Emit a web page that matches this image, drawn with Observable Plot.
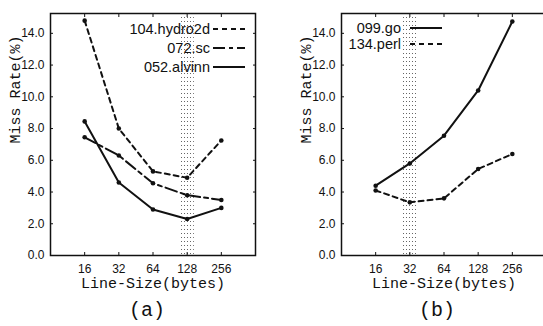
<!DOCTYPE html>
<html><head><meta charset="utf-8">
<script src="https://cdn.jsdelivr.net/npm/d3@7"></script>
<script src="https://cdn.jsdelivr.net/npm/@observablehq/plot@0.6"></script>
<style>
html,body{margin:0;padding:0;background:#fff;overflow:hidden;}
#wrap{position:relative;width:543px;height:326px;overflow:hidden;}
.panel{position:absolute;top:0;}
.cap{position:absolute;font-family:"Liberation Mono","Courier New",monospace;font-size:20px;transform:translateX(-50%);line-height:24px;color:#111;}
.leg{position:absolute;font-family:"Liberation Sans",Arial,sans-serif;font-size:14.5px;display:flex;align-items:center;height:18px;line-height:18px;color:#111;}
</style></head><body><div id="wrap"></div>
<script>
// ---- data ----
const lineSizes = [16, 32, 64, 128, 256];
const hydro2d = [14.8, 8.0, 5.3, 4.9, 7.25];
const sc = [7.45, 6.3, 4.55, 3.8, 3.5];
const alvinn = [8.45, 4.6, 2.9, 2.3, 3.0];
const go = [4.4, 5.8, 7.55, 10.4, 14.75];
const perl = [4.1, 3.35, 3.6, 5.45, 6.4];
const yTicks = [0, 2, 4, 6, 8, 10, 12, 14];
const seriesA = ["104.hydro2d", "072.sc", "052.alvinn"];
const seriesB = ["099.go", "134.perl"];
const valuesA = [hydro2d, sc, alvinn];
const valuesB = [go, perl];
const highlightA = 128;
const highlightB = 32;
const yLabel = "Miss Rate(%)";
const xLabel = "Line-Size(bytes)";

// ---- styles ----
const dash = {"104.hydro2d": "5,4", "072.sc": "12,4,4,4", "052.alvinn": null, "099.go": null, "134.perl": "5,4"};
const ink = "#111";

function rowsOf(names, vals) {
  const out = [];
  names.forEach((n, i) => lineSizes.forEach((x, j) => out.push({series: n, x, y: vals[i][j]})));
  return out;
}

function panel(id, names, vals, highlight, left, width, mLeft, mRight) {
  const rows = rowsOf(names, vals);
  const marks = [
    Plot.rect([highlight], {x1: d => d / 2 ** 0.21, x2: d => d * 2 ** 0.21, fill: `url(#dots${id})`}),
    Plot.frame({stroke: ink, strokeWidth: 1.5}),
    // inward ticks on all four sides
    Plot.axisX(lineSizes, {anchor: "bottom", tickSize: 3, dy: -3, fill: "none", label: null, stroke: ink}),
    Plot.axisX(lineSizes, {anchor: "top", tickSize: 3, dy: 3, fill: "none", label: null, stroke: ink}),
    Plot.axisY(yTicks, {anchor: "left", tickSize: 3, dx: 3, fill: "none", label: null, stroke: ink}),
    Plot.axisY(yTicks, {anchor: "right", tickSize: 3, dx: -3, fill: "none", label: null, stroke: ink}),
    // tick labels
    Plot.axisX(lineSizes, {anchor: "bottom", tickSize: 0, tickPadding: 9, tickFormat: d => String(d), label: null, fill: ink}),
    Plot.axisY(yTicks, {anchor: "left", tickSize: 0, tickPadding: 6, tickFormat: d => d.toFixed(1), label: null, fill: ink}),
    // axis titles
    Plot.text([yLabel], {text: d => d, frameAnchor: "left", rotate: -90, dx: -35, dy: 9, fontFamily: "Liberation Mono, Courier New, monospace", fontSize: 15, fill: ink}),
    Plot.text([xLabel], {text: d => d, frameAnchor: "bottom", dy: 32, fontFamily: "Liberation Mono, Courier New, monospace", fontSize: 15, fill: ink})
  ];
  names.forEach(n => {
    marks.push(Plot.line(rows.filter(r => r.series === n), {x: "x", y: "y", stroke: ink, strokeWidth: 2, strokeDasharray: dash[n] || undefined}));
    marks.push(Plot.dot(rows.filter(r => r.series === n), {x: "x", y: "y", r: 2.3, fill: ink}));
  });
  const svg = Plot.plot({
    width, height: 326,
    marginLeft: mLeft, marginRight: mRight, marginTop: 13, marginBottom: 71,
    x: {type: "log", base: 2, domain: [8, 512], axis: null},
    y: {domain: [0, 15.25], axis: null},
    style: {fontFamily: "Liberation Sans, Arial, sans-serif", fontSize: "12px", background: "transparent", overflow: "visible"},
    marks
  });
  const ns = "http://www.w3.org/2000/svg";
  const defs = document.createElementNS(ns, "defs");
  defs.innerHTML = `<pattern id="dots${id}" width="3" height="4" patternUnits="userSpaceOnUse"><rect x="1" y="1" width="1" height="1" fill="#666"/></pattern>`;
  svg.prepend(defs);
  svg.classList.add("panel");
  svg.style.left = left + "px";
  return svg;
}

const wrap = document.getElementById("wrap");
wrap.appendChild(panel("A", seriesA, valuesA, highlightA, 0, 271, 50, 16));
wrap.appendChild(panel("B", seriesB, valuesB, highlightB, 270, 280, 71, 4));

function legend(names, right, gap, tops) {
  names.forEach((n, i) => {
    const d = document.createElement("div");
    d.className = "leg";
    d.style.right = right + "px";
    d.style.top = tops[i] + "px";
    const s = document.createElement("span");
    s.textContent = n;
    d.appendChild(s);
    const dsh = dash[n] ? `stroke-dasharray="${dash[n]}"` : "";
    d.insertAdjacentHTML("beforeend", `<svg width="32" height="10" style="margin-left:${gap}px"><line x1="0" y1="5" x2="32" y2="5" stroke="${ink}" stroke-width="2" ${dsh}/></svg>`);
    wrap.appendChild(d);
  });
}
legend(seriesA, 543 - 245, 3, [20, 39, 58]);
legend(seriesB, 543 - 442, 9, [19, 35]);

function caption(text, cx) {
  const d = document.createElement("div");
  d.className = "cap";
  d.textContent = text;
  d.style.left = cx + "px";
  d.style.top = "299px";
  wrap.appendChild(d);
}
caption("(a)", 147);
caption("(b)", 437);
</script></body></html>
